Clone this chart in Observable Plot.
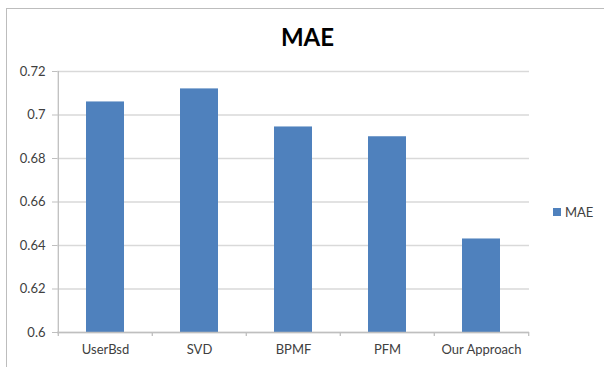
<!DOCTYPE html>
<html><head><meta charset="utf-8">
<script src="https://cdn.jsdelivr.net/npm/d3@7"></script>
<script src="https://cdn.jsdelivr.net/npm/@observablehq/plot@0.6"></script>
<style>
html,body{margin:0;padding:0;background:#fff;overflow:hidden;}
#wrap{position:relative;width:604px;height:367px;font-family:Lato,sans-serif;overflow:hidden;}
#wrap svg{position:absolute;left:0;top:0;}
#frame{position:absolute;left:6px;top:8px;width:700px;height:500px;border:1.5px solid #bdbdbd;box-sizing:border-box;}
#title{position:absolute;left:6px;width:603px;top:25px;line-height:24px;text-align:center;font-weight:bold;font-size:24px;color:#000;}
#legend{position:absolute;left:553px;top:204px;height:16px;font-size:13px;color:#404040;display:flex;align-items:center;}
#legend .sw{width:8px;height:8px;background:#4f81bd;margin-right:4px;}
</style></head>
<body>
<div id="wrap"></div>
<script>
const categories = ["UserBsd", "SVD", "BPMF", "PFM", "Our Approach"];
const maeValues = [0.706, 0.712, 0.6945, 0.690, 0.643];
const yTicks = [0.6, 0.62, 0.64, 0.66, 0.68, 0.7, 0.72];
const seriesName = "MAE";
const titleText = "MAE";

const data = categories.map((c, i) => ({cat: c, mae: maeValues[i]}));
const W = 604, H = 367, ML = 57, MR = 75, MT = 71, MB = 35;
const step = (W - ML - MR) / categories.length;
const yMin = yTicks[0], yMax = yTicks[yTicks.length - 1];
const axisGray = "#bfbfbf";
const blue = "#4f81bd";

const chart = Plot.plot({
  width: W, height: H,
  marginLeft: ML, marginRight: MR, marginTop: MT, marginBottom: MB,
  style: {fontFamily: "Lato, sans-serif", fontSize: "13px", color: "#404040", background: "transparent"},
  x: {type: "band", domain: categories, paddingInner: 0.6, paddingOuter: 0.3, label: null},
  y: {domain: [yMin, yMax], label: null},
  marks: [
    Plot.ruleY(yTicks, {stroke: "#d9d9d9", strokeWidth: 1.3}),
    Plot.barY(data, {x: "cat", y1: () => yMin, y2: "mae", fill: blue}),
    Plot.ruleY([yMin], {stroke: axisGray, strokeWidth: 1.3}),
    Plot.ruleX([categories[0]], {dx: -step / 2, y1: () => yMin, y2: () => yMax, stroke: axisGray, strokeWidth: 1.3}),
    Plot.ruleX(categories, {x: d => d, dx: -step / 2, y1: () => yMin, y2: () => yMin, insetBottom: -4, stroke: axisGray, strokeWidth: 1.3}),
    Plot.ruleX([categories[categories.length - 1]], {dx: step / 2, y1: () => yMin, y2: () => yMin, insetBottom: -4, stroke: axisGray, strokeWidth: 1.3}),
    Plot.axisY({ticks: yTicks, tickFormat: d3.format(""), tickSize: 5, tickPadding: 7, stroke: axisGray, fill: "#404040", label: null}),
    Plot.axisX({tickSize: 0, tickPadding: 12, fill: "#404040", label: null})
  ]
});

const wrap = document.getElementById("wrap");
wrap.appendChild(chart);
const frame = document.createElement("div"); frame.id = "frame"; wrap.appendChild(frame);
const title = document.createElement("div"); title.id = "title"; title.textContent = titleText; wrap.appendChild(title);
const legend = document.createElement("div"); legend.id = "legend";
const sw = document.createElement("span"); sw.className = "sw";
const lt = document.createElement("span"); lt.textContent = seriesName;
legend.appendChild(sw); legend.appendChild(lt); wrap.appendChild(legend);
</script>
</body></html>
